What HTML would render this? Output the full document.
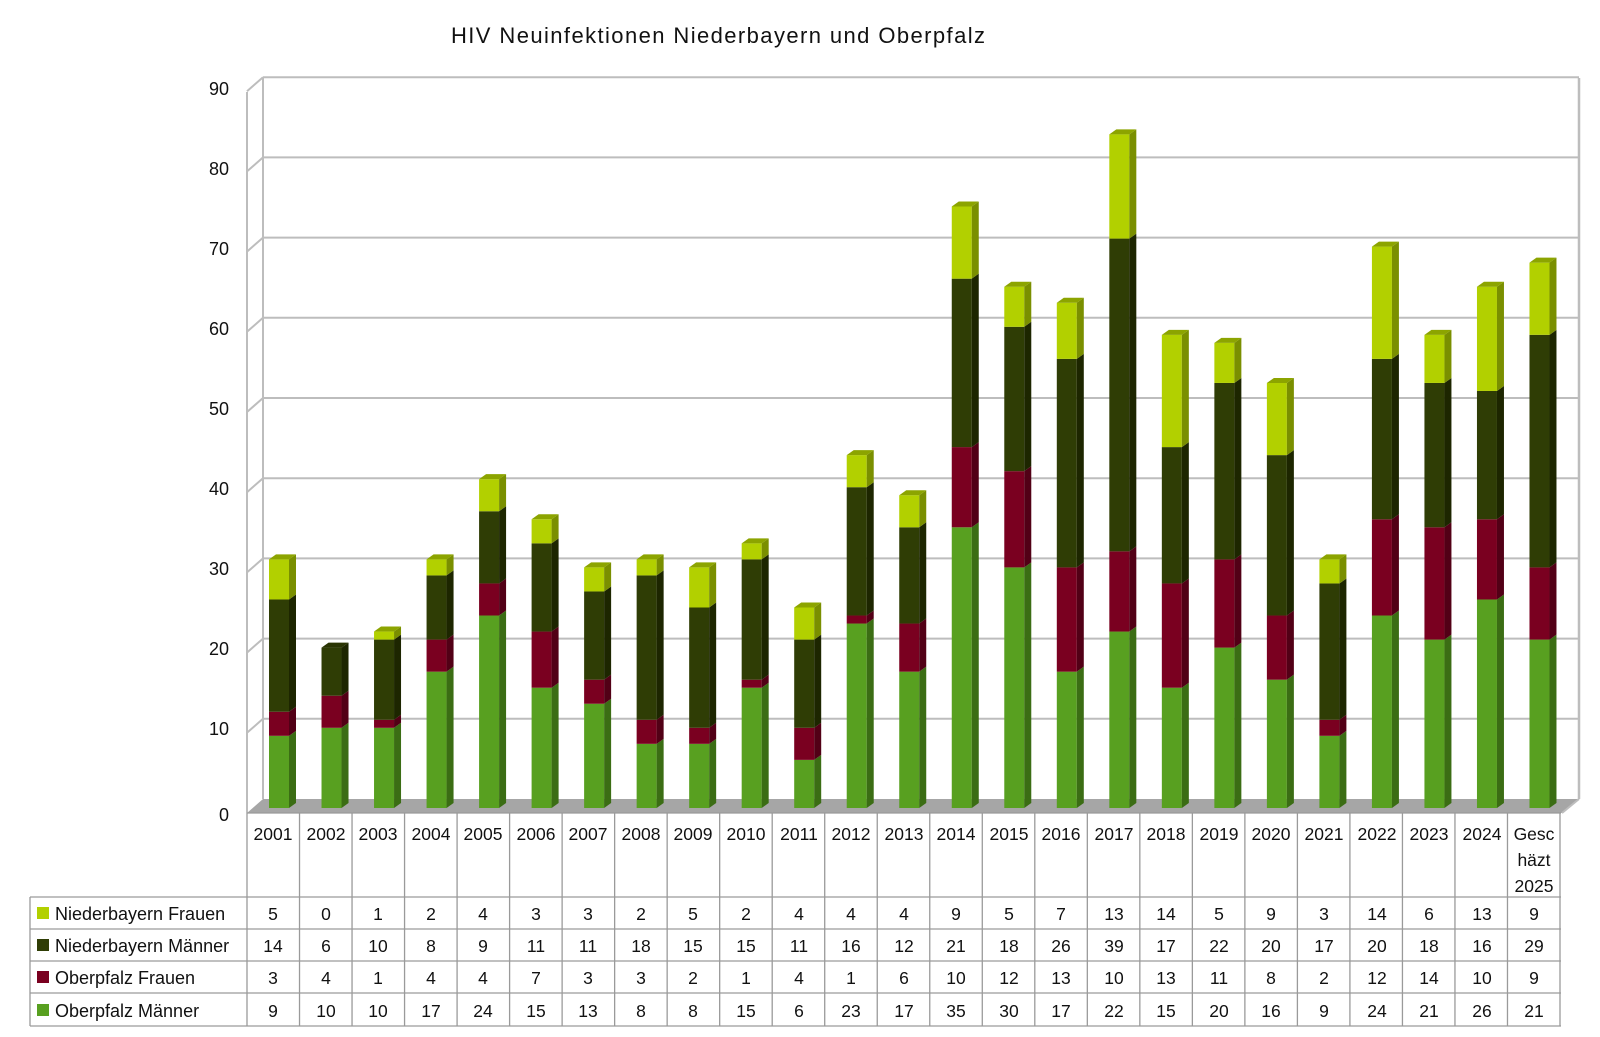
<!DOCTYPE html>
<html><head><meta charset="utf-8"><style>
html,body{margin:0;padding:0;background:#fff;}
svg{display:block;font-family:"Liberation Sans",sans-serif;}
</style></head><body>
<svg id="s" width="1600" height="1037" viewBox="0 0 1600 1037" xmlns="http://www.w3.org/2000/svg">
<rect width="1600" height="1037" fill="#fff"/>
<text x="451" y="43" font-size="22" fill="#111" textLength="534" lengthAdjust="spacing">HIV Neuinfektionen  Niederbayern  und Oberpfalz</text>
<g id="grid"></g>
<g id="bars"></g>
<g font-size="18" fill="#111" text-anchor="end">
<text x="229" y="95">90</text><text x="229" y="175">80</text><text x="229" y="255">70</text><text x="229" y="335">60</text><text x="229" y="415">50</text><text x="229" y="495">40</text><text x="229" y="575">30</text><text x="229" y="655">20</text><text x="229" y="735">10</text><text x="229" y="821">0</text>
</g>
<g id="tbl" stroke="#9a9a9a" stroke-width="1.3" fill="none"></g>
<g font-size="17.5" fill="#111" text-anchor="middle">
<text x="273" y="840">2001</text><text x="326" y="840">2002</text><text x="378" y="840">2003</text><text x="431" y="840">2004</text><text x="483" y="840">2005</text><text x="536" y="840">2006</text><text x="588" y="840">2007</text><text x="641" y="840">2008</text><text x="693" y="840">2009</text><text x="746" y="840">2010</text><text x="799" y="840">2011</text><text x="851" y="840">2012</text><text x="904" y="840">2013</text><text x="956" y="840">2014</text><text x="1009" y="840">2015</text><text x="1061" y="840">2016</text><text x="1114" y="840">2017</text><text x="1166" y="840">2018</text><text x="1219" y="840">2019</text><text x="1271" y="840">2020</text><text x="1324" y="840">2021</text><text x="1377" y="840">2022</text><text x="1429" y="840">2023</text><text x="1482" y="840">2024</text><text x="1534" y="840">Gesc</text><text x="1534" y="866">häzt</text><text x="1534" y="892">2025</text>
</g>
<g font-size="17.5" fill="#111" text-anchor="middle" id="vals">
<text y="920"><tspan x="273">5</tspan><tspan x="326">0</tspan><tspan x="378">1</tspan><tspan x="431">2</tspan><tspan x="483">4</tspan><tspan x="536">3</tspan><tspan x="588">3</tspan><tspan x="641">2</tspan><tspan x="693">5</tspan><tspan x="746">2</tspan><tspan x="799">4</tspan><tspan x="851">4</tspan><tspan x="904">4</tspan><tspan x="956">9</tspan><tspan x="1009">5</tspan><tspan x="1061">7</tspan><tspan x="1114">13</tspan><tspan x="1166">14</tspan><tspan x="1219">5</tspan><tspan x="1271">9</tspan><tspan x="1324">3</tspan><tspan x="1377">14</tspan><tspan x="1429">6</tspan><tspan x="1482">13</tspan><tspan x="1534">9</tspan></text>
<text y="952"><tspan x="273">14</tspan><tspan x="326">6</tspan><tspan x="378">10</tspan><tspan x="431">8</tspan><tspan x="483">9</tspan><tspan x="536">11</tspan><tspan x="588">11</tspan><tspan x="641">18</tspan><tspan x="693">15</tspan><tspan x="746">15</tspan><tspan x="799">11</tspan><tspan x="851">16</tspan><tspan x="904">12</tspan><tspan x="956">21</tspan><tspan x="1009">18</tspan><tspan x="1061">26</tspan><tspan x="1114">39</tspan><tspan x="1166">17</tspan><tspan x="1219">22</tspan><tspan x="1271">20</tspan><tspan x="1324">17</tspan><tspan x="1377">20</tspan><tspan x="1429">18</tspan><tspan x="1482">16</tspan><tspan x="1534">29</tspan></text>
<text y="984"><tspan x="273">3</tspan><tspan x="326">4</tspan><tspan x="378">1</tspan><tspan x="431">4</tspan><tspan x="483">4</tspan><tspan x="536">7</tspan><tspan x="588">3</tspan><tspan x="641">3</tspan><tspan x="693">2</tspan><tspan x="746">1</tspan><tspan x="799">4</tspan><tspan x="851">1</tspan><tspan x="904">6</tspan><tspan x="956">10</tspan><tspan x="1009">12</tspan><tspan x="1061">13</tspan><tspan x="1114">10</tspan><tspan x="1166">13</tspan><tspan x="1219">11</tspan><tspan x="1271">8</tspan><tspan x="1324">2</tspan><tspan x="1377">12</tspan><tspan x="1429">14</tspan><tspan x="1482">10</tspan><tspan x="1534">9</tspan></text>
<text y="1017"><tspan x="273">9</tspan><tspan x="326">10</tspan><tspan x="378">10</tspan><tspan x="431">17</tspan><tspan x="483">24</tspan><tspan x="536">15</tspan><tspan x="588">13</tspan><tspan x="641">8</tspan><tspan x="693">8</tspan><tspan x="746">15</tspan><tspan x="799">6</tspan><tspan x="851">23</tspan><tspan x="904">17</tspan><tspan x="956">35</tspan><tspan x="1009">30</tspan><tspan x="1061">17</tspan><tspan x="1114">22</tspan><tspan x="1166">15</tspan><tspan x="1219">20</tspan><tspan x="1271">16</tspan><tspan x="1324">9</tspan><tspan x="1377">24</tspan><tspan x="1429">21</tspan><tspan x="1482">26</tspan><tspan x="1534">21</tspan></text>
</g>
<g font-size="18" fill="#111">
<rect x="37" y="907" width="12" height="12" fill="#b2d000"/><text x="55" y="920">Niederbayern Frauen</text>
<rect x="37" y="939" width="12" height="12" fill="#2f3d05"/><text x="55" y="952">Niederbayern Männer</text>
<rect x="37" y="971" width="12" height="12" fill="#7a0020"/><text x="55" y="984">Oberpfalz Frauen</text>
<rect x="37" y="1004" width="12" height="12" fill="#58a020"/><text x="55" y="1017">Oberpfalz Männer</text>
</g>
</svg>
<script>
(function(){
var NS="http://www.w3.org/2000/svg";
function el(p,t,a){var e=document.createElementNS(NS,t);for(var k in a)e.setAttribute(k,a[k]);p.appendChild(e);return e;}
var g=document.getElementById('grid'),b=document.getElementById('bars'),t=document.getElementById('tbl');
var S=8.02, BB=799, FB=813, x0=247, cw=52.52;
el(g,'polygon',{points:"247,813 263,799 1579,799 1562,813",fill:"#a6a6a6"});
for(var v=10;v<=90;v+=10){var yb=BB-S*v;
 el(g,'line',{x1:263,y1:yb,x2:1579,y2:yb,stroke:"#bdbdbd","stroke-width":2});
 el(g,'line',{x1:247,y1:FB-S*v,x2:263,y2:yb,stroke:"#bdbdbd","stroke-width":2});}
el(g,'line',{x1:263,y1:78,x2:263,y2:799,stroke:"#bdbdbd","stroke-width":2});
el(g,'line',{x1:1579,y1:78,x2:1579,y2:799,stroke:"#bdbdbd","stroke-width":2.5});
el(g,'line',{x1:247,y1:92,x2:247,y2:813,stroke:"#bdbdbd","stroke-width":2});
el(g,'line',{x1:1562,y1:813,x2:1579,y2:799,stroke:"#bdbdbd","stroke-width":2});
var om=[9,10,10,17,24,15,13,8,8,15,6,23,17,35,30,17,22,15,20,16,9,24,21,26,21];
var of=[3,4,1,4,4,7,3,3,2,1,4,1,6,10,12,13,10,13,11,8,2,12,14,10,9];
var nm=[14,6,10,8,9,11,11,18,15,15,11,16,12,21,18,26,39,17,22,20,17,20,18,16,29];
var nf=[5,0,1,2,4,3,3,2,5,2,4,4,4,9,5,7,13,14,5,9,3,14,6,13,9];
var cols=[["#58a020","#3b6d14","#4a8a18"],["#7a0020","#520016","#600019"],["#2f3d05","#1d2600","#2a3503"],["#b2d000","#7a8f00","#8ca400"]];
var bw=20,dx=7,dy=5,base=808;
for(var i=0;i<25;i++){
 var x=x0+cw*i+22, y=base, vals=[om[i],of[i],nm[i],nf[i]], top=null;
 for(var s=0;s<4;s++){var h=vals[s]*S; if(h<=0)continue; var yt=y-h;
  el(b,'rect',{x:x,y:yt,width:bw,height:h,fill:cols[s][0]});
  el(b,'polygon',{points:(x+bw)+","+y+" "+(x+bw+dx)+","+(y-dy)+" "+(x+bw+dx)+","+(yt-dy)+" "+(x+bw)+","+yt,fill:cols[s][1]});
  y=yt; top=s;}
 el(b,'polygon',{points:x+","+y+" "+(x+dx)+","+(y-dy)+" "+(x+bw+dx)+","+(y-dy)+" "+(x+bw)+","+y,fill:cols[top][2]});
}
el(t,'line',{x1:247,y1:813,x2:1561,y2:813});
for(var i=0;i<=25;i++){var xx=x0+cw*i;el(t,'line',{x1:xx,y1:813,x2:xx,y2:1026});}
[897,929,961,993,1026].forEach(function(yy){el(t,'line',{x1:30,y1:yy,x2:1561,y2:yy});});
el(t,'line',{x1:30,y1:897,x2:30,y2:1026});
})();
</script>
</body></html>
